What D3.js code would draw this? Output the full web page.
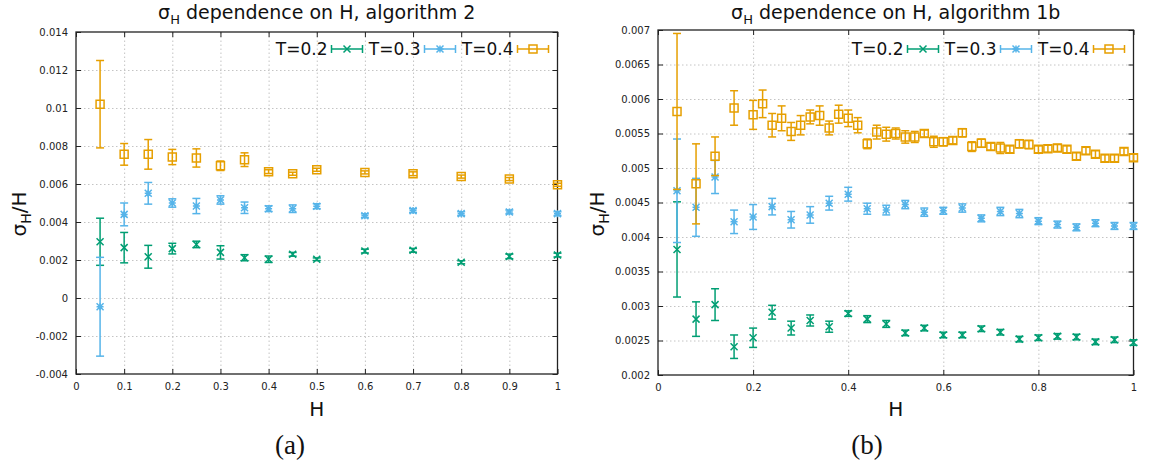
<!DOCTYPE html>
<html>
<head>
<meta charset="utf-8">
<script src="https://cdn.jsdelivr.net/npm/d3@7"></script>
<style>
body { margin: 0; background: #fff; }
svg { font-family: "DejaVu Sans", sans-serif; }
</style>
</head>
<body>
<div id="chart"></div>
<script>
// ---- panel (a): algorithm 2 ----
var aH = [0.05, 0.1, 0.15, 0.2, 0.25, 0.3, 0.35, 0.4, 0.45, 0.5, 0.6, 0.7, 0.8, 0.9, 1.0];
var aT02 = [0.00296, 0.00265, 0.00217, 0.0026, 0.00282, 0.0024, 0.00212, 0.00204, 0.0023, 0.00204, 0.00247, 0.00251, 0.00188, 0.00219, 0.00226];
var aT02err = [0.00124, 0.0008, 0.0006, 0.00028, 0.00017, 0.00035, 0.00016, 0.00017, 0.0001, 0.00007, 0.0001, 0.0001, 0.00008, 0.00012, 0.0001];
var aT03 = [-0.00046, 0.0044, 0.00551, 0.005, 0.00484, 0.00516, 0.00475, 0.0047, 0.0047, 0.00483, 0.00433, 0.0046, 0.00444, 0.00453, 0.00444];
var aT03err = [0.0026, 0.0006, 0.00057, 0.00022, 0.0004, 0.00022, 0.0003, 0.00015, 0.0002, 0.00013, 0.0001, 0.0001, 0.0001, 0.0001, 0.0001];
var aT04 = [0.0102, 0.00756, 0.00756, 0.00742, 0.00737, 0.00696, 0.00728, 0.00665, 0.00654, 0.00675, 0.00661, 0.00654, 0.00639, 0.00626, 0.00596];
var aT04err = [0.0023, 0.00057, 0.00078, 0.0004, 0.00048, 0.00025, 0.00036, 0.0001, 0.00008, 0.00008, 0.00008, 0.0001, 0.00008, 0.00008, 0.00008];

var aXTicks = [0, 0.1, 0.2, 0.3, 0.4, 0.5, 0.6, 0.7, 0.8, 0.9, 1];
var aXLabels = ['0', '0.1', '0.2', '0.3', '0.4', '0.5', '0.6', '0.7', '0.8', '0.9', '1'];
var aYTicks = [-0.004, -0.002, 0, 0.002, 0.004, 0.006, 0.008, 0.01, 0.012, 0.014];
var aYLabels = ['-0.004', '-0.002', '0', '0.002', '0.004', '0.006', '0.008', '0.01', '0.012', '0.014'];

// ---- panel (b): algorithm 1b ----
var bH = [0.04, 0.08, 0.12, 0.16, 0.2, 0.24, 0.28, 0.32, 0.36, 0.4, 0.44, 0.48, 0.52, 0.56, 0.6, 0.64, 0.68, 0.72, 0.76, 0.8, 0.84, 0.88, 0.92, 0.96, 1.0];
var bT02 = [0.00382, 0.00281, 0.00302, 0.00241, 0.00254, 0.00291, 0.00268, 0.00279, 0.0027, 0.00289, 0.00281, 0.00274, 0.00261, 0.00268, 0.00258, 0.00258, 0.00267, 0.00262, 0.00252, 0.00254, 0.00256, 0.00255, 0.00248, 0.00251, 0.00247];
var bT02err = [0.00069, 0.00025, 0.00023, 0.00017, 0.00014, 0.0001, 0.0001, 0.00008, 0.00008, 0.00004, 0.00005, 0.00005, 0.00004, 0.00004, 0.00004, 0.00004, 0.00004, 0.00004, 0.00004, 0.00004, 0.00004, 0.00004, 0.00004, 0.00004, 0.00004];
var bT03 = [0.00467, 0.00443, 0.00487, 0.00422, 0.00429, 0.00444, 0.00425, 0.00432, 0.00449, 0.00462, 0.00441, 0.00439, 0.00447, 0.00436, 0.00438, 0.00442, 0.00427, 0.00437, 0.00434, 0.00423, 0.00418, 0.00414, 0.0042, 0.00416, 0.00416];
var bT03err = [0.00075, 0.00042, 0.00024, 0.00017, 0.00018, 0.00012, 0.00012, 0.00012, 0.0001, 0.0001, 0.00008, 0.00007, 0.00006, 0.00006, 0.00005, 0.00006, 0.00005, 0.00006, 0.00006, 0.00005, 0.00005, 0.00005, 0.00005, 0.00005, 0.00005];
var bH4 = [0.04, 0.08, 0.12, 0.16, 0.2, 0.22, 0.24, 0.26, 0.28, 0.3, 0.32, 0.34, 0.36, 0.38, 0.4, 0.42, 0.44, 0.46, 0.48, 0.5,
           0.52, 0.54, 0.56, 0.58, 0.6, 0.62, 0.64, 0.66, 0.68, 0.7, 0.72, 0.74, 0.76, 0.78, 0.8, 0.82, 0.84, 0.86, 0.88, 0.9, 0.92, 0.94, 0.96, 0.98, 1.0];
var bT04 = [0.00582, 0.00477, 0.00517, 0.00587, 0.00577, 0.00593, 0.00562, 0.00572, 0.00553, 0.00562, 0.00574, 0.00576, 0.00558, 0.00578, 0.00572, 0.00562, 0.00535, 0.00552, 0.00549, 0.0055,
            0.00545, 0.00545, 0.0055, 0.00538, 0.00538, 0.0054, 0.00551, 0.00531, 0.00536, 0.00531, 0.00529, 0.00527, 0.00535, 0.00534, 0.00527, 0.00528, 0.00529, 0.00527, 0.00517, 0.00525, 0.0052, 0.00514, 0.00514, 0.00524, 0.00515];
var bT04err = [0.00113, 0.00058, 0.00028, 0.00025, 0.00021, 0.0002, 0.00017, 0.00018, 0.00013, 0.00014, 0.0001, 0.00014, 0.0001, 0.00013, 0.00012, 0.00011, 0.00007, 0.0001, 0.0001, 0.00008,
               0.00009, 0.00008, 0.00005, 0.00008, 0.00006, 0.00005, 0.00006, 0.00007, 0.00006, 0.00005, 0.00008, 0.00005, 0.00006, 0.00006, 0.00005, 0.00005, 0.00005, 0.00005, 0.00005, 0.00005, 0.00005, 0.00005, 0.00005, 0.00005, 0.00005];

var bXTicks = [0, 0.2, 0.4, 0.6, 0.8, 1];
var bXLabels = ['0', '0.2', '0.4', '0.6', '0.8', '1'];
var bYTicks = [0.002, 0.0025, 0.003, 0.0035, 0.004, 0.0045, 0.005, 0.0055, 0.006, 0.0065, 0.007];
var bYLabels = ['0.002', '0.0025', '0.003', '0.0035', '0.004', '0.0045', '0.005', '0.0055', '0.006', '0.0065', '0.007'];

var legendNames = ['T=0.2', 'T=0.3', 'T=0.4'];
var colors = ['#009e73', '#56b4e9', '#e69f00'];
var markers = ['cross', 'star', 'square'];

var svg = d3.select('#chart')
    .append('svg')
    .attr('width', 1150)
    .attr('height', 468);

function markerPath(kind) {
    var r = 3.5, q = 4;
    if (kind === 'cross') return 'M' + (-r) + ',' + (-r) + 'L' + r + ',' + r + 'M' + (-r) + ',' + r + 'L' + r + ',' + (-r);
    if (kind === 'star') return 'M' + (-r) + ',' + (-r) + 'L' + r + ',' + r + 'M' + (-r) + ',' + r + 'L' + r + ',' + (-r) +
        'M' + (-r) + ',0H' + r + 'M0,' + (-r) + 'V' + r;
    return 'M' + (-q) + ',' + (-q) + 'H' + q + 'V' + q + 'H' + (-q) + 'Z';
}

function drawPanel(p) {
    var x = d3.scaleLinear().domain([0, 1]).range([p.x0, p.x1]);
    var y = d3.scaleLinear()
        .domain([p.yTicks[0], p.yTicks[p.yTicks.length - 1]])
        .range([p.y1, p.y0]);
    var w = p.x1 - p.x0, h = p.y1 - p.y0;
    var g = svg.append('g');

    // dotted grid
    g.append('g')
        .attr('transform', 'translate(0,' + p.y1 + ')')
        .call(d3.axisBottom(x).tickValues(p.xTicks.slice(1, -1)).tickSize(-h).tickFormat(''))
        .call(function (s) {
            s.select('.domain').remove();
            s.selectAll('line').attr('stroke', '#c4c4c4').attr('stroke-dasharray', '1.5,2.5');
        });
    g.append('g')
        .attr('transform', 'translate(' + p.x0 + ',0)')
        .call(d3.axisLeft(y).tickValues(p.yTicks.slice(1, -1)).tickSize(-w).tickFormat(''))
        .call(function (s) {
            s.select('.domain').remove();
            s.selectAll('line').attr('stroke', '#c4c4c4').attr('stroke-dasharray', '1.5,2.5');
        });

    // axes with inward ticks, mirrored on top/right
    var bottom = g.append('g')
        .attr('transform', 'translate(0,' + p.y1 + ')')
        .call(d3.axisBottom(x).tickValues(p.xTicks)
            .tickFormat(function (d, i) { return p.xLabels[i]; })
            .tickSizeInner(-5).tickSizeOuter(0).tickPadding(9));
    var left = g.append('g')
        .attr('transform', 'translate(' + p.x0 + ',0)')
        .call(d3.axisLeft(y).tickValues(p.yTicks)
            .tickFormat(function (d, i) { return p.yLabels[i]; })
            .tickSizeInner(-5).tickSizeOuter(0).tickPadding(8));
    var top = g.append('g')
        .attr('transform', 'translate(0,' + p.y0 + ')')
        .call(d3.axisTop(x).tickValues(p.xTicks).tickFormat('').tickSizeInner(-5).tickSizeOuter(0));
    var right = g.append('g')
        .attr('transform', 'translate(' + p.x1 + ',0)')
        .call(d3.axisRight(y).tickValues(p.yTicks).tickFormat('').tickSizeInner(-5).tickSizeOuter(0));
    [bottom, left, top, right].forEach(function (a) {
        a.select('.domain').remove();
        a.attr('font-family', '"DejaVu Sans", sans-serif').attr('font-size', 10);
        a.selectAll('line').attr('stroke', '#222');
        a.selectAll('text').attr('fill', '#222');
    });

    g.append('rect')
        .attr('x', p.x0).attr('y', p.y0)
        .attr('width', w).attr('height', h)
        .attr('fill', 'none')
        .attr('stroke', '#222')
        .attr('stroke-width', 1.3);

    // series with error bars
    p.series.forEach(function (se, k) {
        var pts = se.h.map(function (hv, i) { return { h: hv, v: se.v[i], e: se.e[i] }; });
        var sg = g.append('g')
            .attr('stroke', colors[k])
            .attr('fill', 'none')
            .attr('stroke-width', 1.5);
        var pt = sg.selectAll('g')
            .data(pts)
            .enter().append('g')
            .attr('transform', function (d) { return 'translate(' + x(d.h) + ',0)'; });
        pt.append('line')
            .attr('x1', 0).attr('x2', 0)
            .attr('y1', function (d) { return y(d.v + d.e); })
            .attr('y2', function (d) { return y(d.v - d.e); });
        pt.append('line')
            .attr('x1', -4).attr('x2', 4)
            .attr('y1', function (d) { return y(d.v + d.e); })
            .attr('y2', function (d) { return y(d.v + d.e); });
        pt.append('line')
            .attr('x1', -4).attr('x2', 4)
            .attr('y1', function (d) { return y(d.v - d.e); })
            .attr('y2', function (d) { return y(d.v - d.e); });
        pt.append('path')
            .attr('transform', function (d) { return 'translate(0,' + y(d.v) + ')'; })
            .attr('d', markerPath(markers[k]));
    });

    // key
    legendNames.forEach(function (name, k) {
        var sx1 = p.x1 - 9 - (2 - k) * 93, sx0 = sx1 - 31, ly = 49;
        var lg = g.append('g');
        lg.append('text')
            .attr('x', sx0 - 4).attr('y', ly + 6)
            .attr('text-anchor', 'end')
            .attr('font-size', 17)
            .attr('fill', '#111')
            .text(name);
        var sg = lg.append('g').attr('stroke', colors[k]).attr('fill', 'none').attr('stroke-width', 1.5);
        sg.append('line').attr('x1', sx0).attr('x2', sx1).attr('y1', ly).attr('y2', ly);
        sg.append('line').attr('x1', sx0).attr('x2', sx0).attr('y1', ly - 4).attr('y2', ly + 4);
        sg.append('line').attr('x1', sx1).attr('x2', sx1).attr('y1', ly - 4).attr('y2', ly + 4);
        sg.append('path')
            .attr('transform', 'translate(' + ((sx0 + sx1) / 2) + ',' + ly + ')')
            .attr('d', markerPath(markers[k]));
    });

    var cx = (p.x0 + p.x1) / 2;

    // title
    var t = g.append('text')
        .attr('x', cx).attr('y', 19)
        .attr('text-anchor', 'middle')
        .attr('font-size', 19)
        .attr('fill', '#111');
    t.append('tspan').text('σ');
    t.append('tspan').attr('font-size', 13).attr('dy', 5).text('H');
    t.append('tspan').attr('dy', -5).text(' dependence on H, algorithm ' + p.alg);

    // axis labels
    g.append('text')
        .attr('x', cx).attr('y', 416)
        .attr('text-anchor', 'middle')
        .attr('font-size', 20)
        .attr('fill', '#111')
        .text('H');
    var yl = g.append('text')
        .attr('transform', 'translate(' + p.yLabelX + ',214) rotate(-90)')
        .attr('text-anchor', 'middle')
        .attr('font-size', 20)
        .attr('fill', '#111');
    yl.append('tspan').text('σ');
    yl.append('tspan').attr('font-size', 14).attr('dy', 5).text('H');
    yl.append('tspan').attr('dy', -5).text('/H');

    // sub-figure label
    g.append('text')
        .attr('x', p.subX).attr('y', 454)
        .attr('text-anchor', 'middle')
        .attr('font-family', '"Liberation Serif", "DejaVu Serif", serif')
        .attr('font-size', 27)
        .attr('fill', '#111')
        .text(p.sub);
}

drawPanel({
    x0: 76, x1: 557.5, y0: 32, y1: 374,
    xTicks: aXTicks, xLabels: aXLabels, yTicks: aYTicks, yLabels: aYLabels,
    series: [
        { h: aH, v: aT02, e: aT02err },
        { h: aH, v: aT03, e: aT03err },
        { h: aH, v: aT04, e: aT04err }
    ],
    alg: '2', yLabelX: 26, sub: '(a)', subX: 290
});

drawPanel({
    x0: 658, x1: 1133.5, y0: 30, y1: 375,
    xTicks: bXTicks, xLabels: bXLabels, yTicks: bYTicks, yLabels: bYLabels,
    series: [
        { h: bH, v: bT02, e: bT02err },
        { h: bH, v: bT03, e: bT03err },
        { h: bH4, v: bT04, e: bT04err }
    ],
    alg: '1b', yLabelX: 604, sub: '(b)', subX: 867
});
</script>
</body>
</html>
